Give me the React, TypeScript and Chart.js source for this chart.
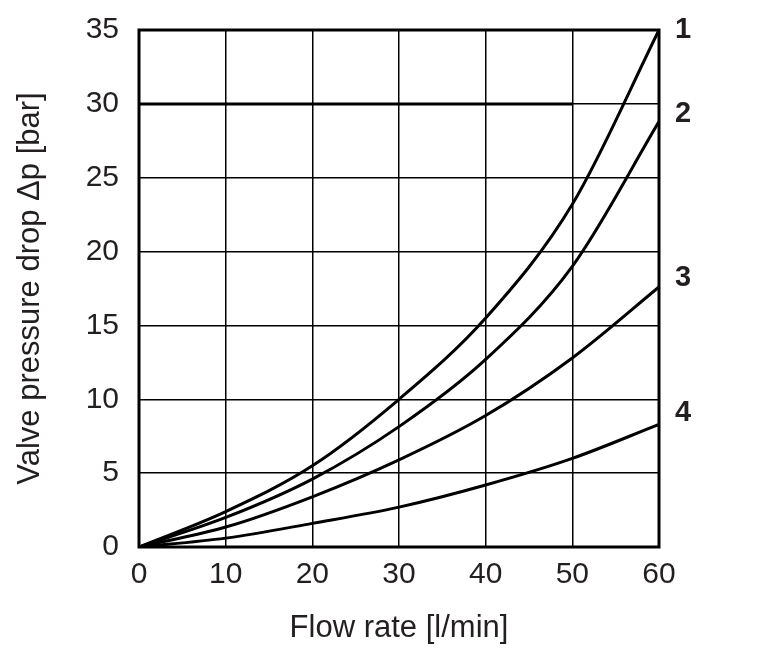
import React, { useEffect, useRef } from "react";
import { Chart, registerables } from "chart.js";

Chart.register(...registerables);

const flowRates = [0, 10, 20, 30, 40, 50, 60];
const curve1 = [0, 2.4, 5.5, 10.0, 15.5, 23.2, 35];
const curve2 = [0, 2.0, 4.6, 8.15, 12.7, 19.0, 28.8];
const curve3 = [0, 1.35, 3.4, 5.9, 8.9, 12.8, 17.6];
const curve4 = [0, 0.6, 1.6, 2.7, 4.2, 6.0, 8.3];
const curveNames = ["1", "2", "3", "4"];
const curveLabelValues = [35, 29.3, 18.2, 9.1];

const FONT = "'Liberation Sans', Arial, Helvetica, sans-serif";
const TEXT = "#231f20";

const toPoints = (ys: number[]) => flowRates.map((x, i) => ({ x, y: ys[i] }));

const frameAndLabels = {
  id: "frameAndLabels",
  beforeDatasetsDraw(chart: any) {
    const { ctx, scales } = chart;
    ctx.save();
    ctx.strokeStyle = "#000";
    ctx.lineWidth = 3;
    const y30 = Math.round(scales.y.getPixelForValue(30));
    ctx.beginPath();
    ctx.moveTo(scales.x.getPixelForValue(0), y30);
    ctx.lineTo(scales.x.getPixelForValue(50), y30);
    ctx.stroke();
    ctx.restore();
  },
  afterDatasetsDraw(chart: any) {
    const { ctx, chartArea, scales } = chart;
    ctx.save();
    ctx.strokeStyle = "#000";
    ctx.lineWidth = 3;
    ctx.strokeRect(chartArea.left, chartArea.top, chartArea.right - chartArea.left, chartArea.bottom - chartArea.top);
    ctx.fillStyle = TEXT;
    ctx.font = `bold 29px ${FONT}`;
    ctx.textAlign = "left";
    ctx.textBaseline = "middle";
    curveNames.forEach((name, i) => {
      ctx.fillText(name, chartArea.right + 16, scales.y.getPixelForValue(curveLabelValues[i]));
    });
    ctx.restore();
  },
};

export default function App() {
  const ref = useRef<HTMLCanvasElement>(null);
  useEffect(() => {
    document.body.style.margin = "0";
    const series = [curve1, curve2, curve3, curve4];
    const chart = new Chart(ref.current!, {
      type: "line",
      data: {
        datasets: series.map((s, i) => ({
          label: curveNames[i],
          data: toPoints(s),
          borderColor: "#000",
          borderWidth: 3,
          pointRadius: 0,
          fill: false,
          cubicInterpolationMode: "monotone" as const,
        })),
      },
      options: {
        responsive: false,
        animation: false,
        layout: { padding: { top: 30, right: 104, left: 0, bottom: 0 } },
        plugins: { legend: { display: false }, tooltip: { enabled: false } },
        scales: {
          x: {
            type: "linear",
            min: 0,
            max: 60,
            ticks: { stepSize: 10, color: TEXT, padding: 10, font: { family: FONT, size: 30 } },
            grid: { color: "#000", lineWidth: 1.5, drawTicks: false },
            border: { display: false },
            title: { display: true, text: "Flow rate [l/min]", color: TEXT, font: { family: FONT, size: 31 }, padding: { top: 0, bottom: 19 } },
            afterFit: (s: any) => { s.height = 119; s.paddingLeft = 0; s.paddingRight = 0; },
          },
          y: {
            type: "linear",
            min: 0,
            max: 35,
            ticks: { stepSize: 5, color: TEXT, padding: 20, font: { family: FONT, size: 30 } },
            grid: { color: "#000", lineWidth: 1.5, drawTicks: false },
            border: { display: false },
            title: { display: true, text: "Valve pressure drop Δp [bar]", color: TEXT, font: { family: FONT, size: 31 }, padding: { top: 12, bottom: 0 } },
            afterFit: (s: any) => { s.width = 139; s.paddingTop = 0; s.paddingBottom = 0; },
          },
        },
      },
      plugins: [frameAndLabels],
    } as any);
    return () => chart.destroy();
  }, []);
  return (
    <div style={{ width: 763, height: 666, background: "#fff" }}>
      <canvas ref={ref} width={763} height={666} style={{ display: "block" }} />
    </div>
  );
}
